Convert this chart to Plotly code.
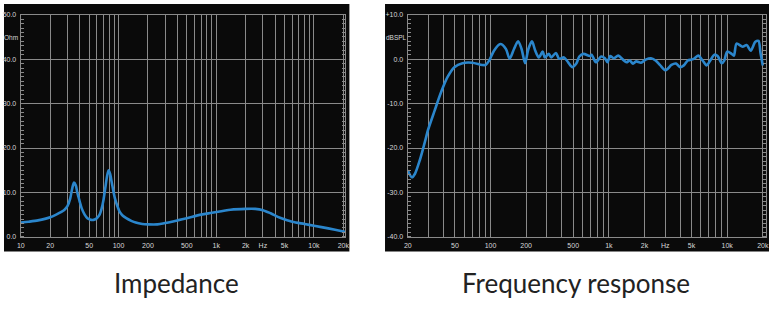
import plotly.graph_objects as go
import numpy as np

# ---------------- data ----------------
imp_freq = [10, 12, 15, 18, 20, 23, 26, 28, 30, 32, 33.5, 35, 36.5, 38, 40, 42, 45, 48, 51, 54, 57,
            60, 64, 67, 70, 73, 76, 79, 82, 85, 88, 92, 97, 103, 110, 120, 135, 150, 175, 200, 250,
            300, 400, 500, 700, 900, 1400, 2000, 2500, 3000, 3600, 4500, 6000, 8000, 10000, 14000,
            20000, 21000]
imp_ohm = [3.2, 3.4, 3.7, 4.1, 4.4, 5.0, 5.6, 6.1, 6.9, 8.6, 10.8, 12.2, 11.6, 9.8, 8.0, 6.4, 5.0,
           4.2, 3.9, 3.8, 3.9, 4.2, 5.0, 6.3, 8.2, 10.8, 13.4, 15.0, 14.2, 12.4, 10.6, 8.6, 7.0, 5.6,
           4.8, 4.2, 3.6, 3.2, 2.9, 2.8, 2.8, 3.1, 3.7, 4.2, 5.0, 5.4, 6.1, 6.3, 6.3, 6.0, 5.3, 4.3,
           3.4, 2.9, 2.5, 1.9, 1.2, 1.1]

fr_freq = [20, 21.7, 23, 25.3, 28.3, 29.6, 33.6, 38.4, 43.4, 49.5, 58, 70, 85, 91, 97.5, 107, 121,
           135, 145, 158, 171, 183, 196, 209, 224, 239, 256, 276, 288, 311, 326, 357, 380, 418, 453,
           493, 531, 563, 610, 690, 715, 778, 860, 926, 975, 1025, 1100, 1200, 1315, 1410, 1500,
           1600, 1700, 1870, 2050, 2270, 2480, 2700, 3000, 3160, 3380, 3700, 4000, 4300, 4650, 5000,
           5300, 5700, 6200, 6700, 7200, 7800, 8300, 9000, 9450, 10000, 10900, 11400, 12000, 13500,
           14600, 15800, 17300, 18400, 19100, 20000]
fr_db = [-25.0, -26.6, -25.8, -22.7, -18.0, -16.0, -11.7, -7.3, -4.0, -1.8, -0.9, -0.8, -1.3, -1.3,
         -0.3, 1.9, 3.4, 2.3, 0.1, 2.3, 4.0, 2.3, -0.9, 2.3, 4.0, 1.9, 0.4, 1.7, 0.4, 1.2, 0.4, 1.4,
         0.1, 0.4, -0.7, -1.8, -1.0, 0.6, 1.2, 0.7, 1.0, -0.7, 0.6, 0.2, -0.7, 0.7, 0.2, 0.8, -0.1,
         -0.7, -0.3, -1.0, -0.5, -0.8, -0.1, 0.2, -0.3, -1.3, -2.5, -2.1, -1.3, -1.0, -1.8, -1.4,
         -0.3, -0.1, 0.2, 0.8, -0.3, -1.4, -0.3, 1.0, 0.7, -0.9, -0.3, 1.7, 1.2, 0.8, 3.5, 2.8, 3.2,
         1.9, 3.9, 4.1, 1.5, -1.4]

imp_xticks = [10, 20, 50, 100, 200, 500, 1000, 2000, 3000, 5000, 10000, 20000]
imp_xtext = ["10", "20", "50", "100", "200", "500", "1k", "2k", "Hz", "5k", "10k", "20k"]
fr_xticks = [20, 50, 100, 200, 500, 1000, 2000, 3000, 5000, 10000, 20000]
fr_xtext = ["20", "50", "100", "200", "500", "1k", "2k", "Hz", "5k", "10k", "20k"]
imp_yticks = [0, 10, 20, 30, 40, 50]
imp_ytext = ["0.0", "10.0", "20.0", "30.0", "40.0", "50.0"]
fr_yticks = [-40, -30, -20, -10, 0, 10]
fr_ytext = ["-40.0", "-30.0", "-20.0", "-10.0", "0.0", "+10.0"]
grid_freqs = [m * 10 ** e for e in range(1, 5) for m in range(1, 10) if m * 10 ** e <= 20000]

# ---------------- layout constants ----------------
W, H = 774, 322
BG = "#0a0a0a"
GRID = "#8a8a8a"
BLUE = "#2b86cc"
LBL = "#d8d8d8"


def px(x):
    return x / W


def py(y):
    return (H - y) / H


fig = go.Figure()
fig.add_trace(go.Scatter(x=imp_freq, y=imp_ohm, mode="lines", xaxis="x", yaxis="y",
                         line=dict(color=BLUE, width=2.6, shape="spline", smoothing=0.8),
                         hoverinfo="skip", showlegend=False))
fig.add_trace(go.Scatter(x=fr_freq, y=fr_db, mode="lines", xaxis="x2", yaxis="y2",
                         line=dict(color=BLUE, width=2.6, shape="spline", smoothing=0.8),
                         hoverinfo="skip", showlegend=False))

tickfont = dict(family="Liberation Sans, Arial", size=7, color=LBL)
unitfont = dict(family="Liberation Sans Narrow, Liberation Sans, Arial", size=6.5, color=LBL)


def xax(domain, rng, tv, tt):
    return dict(domain=domain, type="log", range=rng, tickmode="array", tickvals=tv, ticktext=tt,
                showgrid=True, gridcolor=GRID, gridwidth=1.3, ticks="", tickfont=tickfont,
                showline=True, linecolor=GRID, linewidth=1.3, mirror=True, zeroline=False,
                ticklabelstandoff=2,
                minor=dict(tickmode="array", tickvals=grid_freqs, showgrid=True, gridcolor=GRID,
                           gridwidth=1.3, ticks=""),
                fixedrange=True)


def yax(domain, anchor, rng, tv, tt):
    return dict(domain=domain, anchor=anchor, range=rng, tickmode="array", tickvals=tv, ticktext=tt,
                showgrid=True, gridcolor=GRID, gridwidth=1.3, ticks="", tickfont=tickfont,
                showline=True, linecolor=GRID, linewidth=1.3, mirror="ticks", zeroline=False,
                ticklabelstandoff=2,
                minor=dict(dtick=1, ticks="inside", ticklen=3, tickcolor=GRID, tickwidth=1,
                           showgrid=False),
                fixedrange=True)


fig.update_layout(
    width=W, height=H, margin=dict(l=0, r=0, t=0, b=0),
    paper_bgcolor="white", plot_bgcolor=BG,
    xaxis=xax([px(17), px(345)], [1, np.log10(21000)], imp_xticks, imp_xtext),
    yaxis=yax([py(238), py(11)], "x", [0, 50], imp_yticks, imp_ytext),
    xaxis2=dict(**xax([px(408), px(770)], [np.log10(20), np.log10(21300)], fr_xticks, fr_xtext),
                anchor="y2"),
    yaxis2=yax([py(238), py(11)], "x2", [-40, 10], fr_yticks, fr_ytext),
    shapes=[
        dict(type="rect", xref="paper", yref="paper", x0=0, x1=px(349), y0=py(253), y1=1,
             fillcolor=BG, line=dict(width=0), layer="below"),
        dict(type="rect", xref="paper", yref="paper", x0=px(385), x1=px(773), y0=py(253), y1=1,
             fillcolor=BG, line=dict(width=0), layer="below"),
    ],
    annotations=[
        dict(text="Ohm", x=px(7), y=py(34), xref="paper", yref="paper", showarrow=False,
             font=unitfont, xanchor="center", yanchor="middle", borderpad=0),
        dict(text="dBSPL", x=px(396.5), y=py(34), xref="paper", yref="paper", showarrow=False,
             font=unitfont, xanchor="center", yanchor="middle", borderpad=0),
        dict(text="Impedance", x=px(174), y=py(285), xref="paper", yref="paper", showarrow=False,
             font=dict(family="Lato", size=26, color="#222222"), xanchor="center", yanchor="middle"),
        dict(text="Frequency response", x=px(578), y=py(285), xref="paper", yref="paper",
             showarrow=False, font=dict(family="Lato", size=26, color="#222222"),
             xanchor="center", yanchor="middle"),
    ],
)

fig.write_html("out.html")
